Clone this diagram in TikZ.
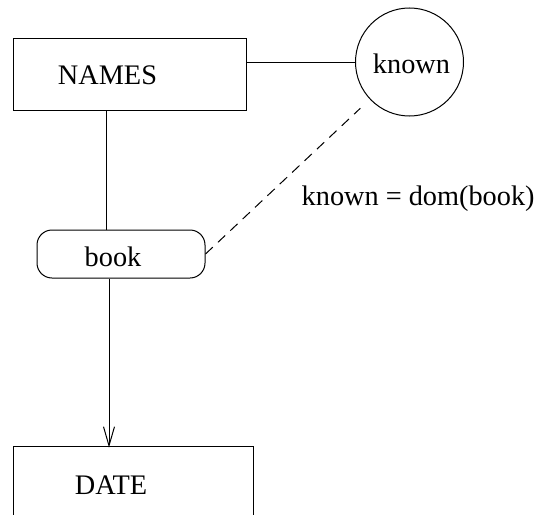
\documentclass[tikz,border=0pt]{standalone}
\usepackage{fontspec}
\setmainfont{Liberation Serif}
\usetikzlibrary{arrows.meta}
\begin{document}
\begin{tikzpicture}[x=1pt,y=-1pt,
  every node/.style={font=\fontsize{28.3}{34}\selectfont},
  line/.style={line width=1pt},
  box/.style={draw,line width=1pt,rectangle,inner sep=0pt},
  roundbox/.style={draw,line width=1pt,rectangle,rounded corners=15pt,inner sep=0pt},
  ring/.style={draw,line width=1pt,circle,inner sep=0pt,minimum size=108pt}]
\useasboundingbox (0,0) rectangle (538,514);
\clip (0,0) rectangle (538,514);
\fill[white] (0,0) rectangle (538,514);
\node[box,minimum width=233pt,minimum height=72pt,
  label={[xshift=-22pt,yshift=-1pt]center:NAMES}] (names) at (129.5,74) {};
\node[ring] (known) at (409.5,62) {};
\node at (411.5,64) {known};
\node[roundbox,minimum width=168pt,minimum height=48pt,
  label={[xshift=-8pt,yshift=-3pt]center:book}] (book) at (121,254) {};
\node[box,minimum width=240pt,minimum height=72pt,
  label={[xshift=-22pt,yshift=-3pt]center:DATE}] (date) at (133,482) {};
\node[anchor=base west,inner sep=0pt] (rel) at (301.5,205) {known = dom(book)};
\draw[line] (names.east |- known.west) -- (known.west);
\draw[line] ([xshift=-23pt]names.south) -- ([xshift=-23pt]names.south |- book.north);
\draw[line,-{Straight Barb[length=19pt,width=11pt,line width=1pt]}]
  ([xshift=-12pt]book.south) -- ([xshift=-12pt,yshift=-2pt]book.south |- date.north);
\draw[line,dash pattern=on 10pt off 7pt,shorten >=13pt] (book.east) -- (known);
\end{tikzpicture}
\end{document}
